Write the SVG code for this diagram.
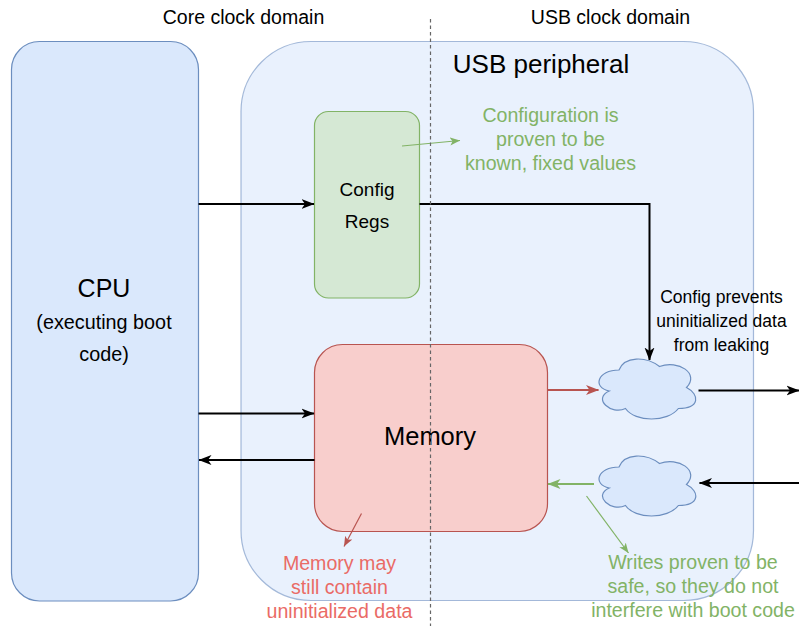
<svg xmlns="http://www.w3.org/2000/svg" width="799" height="626" viewBox="0 0 799 626">
<style>
text{font-family:"Liberation Sans",Arial,sans-serif;text-anchor:middle;fill:#000}
.hdr{font-size:19.5px}
.ann-g{font-size:19.6px;fill:#82b366}
.ann-r{font-size:19.6px;fill:#ea6b66}
.small{font-size:17.5px}
.conn{fill:none;stroke:#000;stroke-width:2}
.conn-r{fill:none;stroke:#b85450;stroke-width:2}
.conn-g{fill:none;stroke:#82b366;stroke-width:2}
.note-g{fill:none;stroke:#82b366;stroke-width:1.2}
.note-r{fill:none;stroke:#b85450;stroke-width:1.2}
.cloud{fill:#dae8fc;stroke:#6c8ebf;stroke-width:1.2}
</style>
<defs>
<marker id="ab" markerUnits="userSpaceOnUse" markerWidth="14" markerHeight="12" refX="12.5" refY="6" orient="auto"><path d="M0,1 L13,6 L0,11 L3.5,6 Z" fill="#000"/></marker>
<marker id="ar" markerUnits="userSpaceOnUse" markerWidth="14" markerHeight="12" refX="12.5" refY="6" orient="auto"><path d="M0,1 L13,6 L0,11 L3.5,6 Z" fill="#b85450"/></marker>
<marker id="ag" markerUnits="userSpaceOnUse" markerWidth="14" markerHeight="12" refX="12.5" refY="6" orient="auto"><path d="M0,1 L13,6 L0,11 L3.5,6 Z" fill="#82b366"/></marker>
<marker id="agS" markerUnits="userSpaceOnUse" markerWidth="11" markerHeight="9" refX="10" refY="4.5" orient="auto"><path d="M0,0.5 L10,4.5 L0,8.5 L2.5,4.5 Z" fill="#82b366"/></marker>
<marker id="arS" markerUnits="userSpaceOnUse" markerWidth="11" markerHeight="9" refX="10" refY="4.5" orient="auto"><path d="M0,0.5 L10,4.5 L0,8.5 L2.5,4.5 Z" fill="#b85450"/></marker>
<path id="cloudShape" d="M27,17.5 C5.4,17.5 0,35 17.28,38.5 C0,46.2 19.44,63 33.48,56 C43.2,70 75.6,70 86.4,56 C108,56 108,42 94.5,35 C108,21 86.4,7 67.5,14 C54,3.5 32.4,3.5 27,17.5 Z"/>
</defs>

<g id="header-core"><text class="hdr" x="243.5" y="24">Core clock domain</text></g>
<g id="header-usb"><text class="hdr" x="610.5" y="24">USB clock domain</text></g>

<g id="cpu">
<rect x="11.5" y="41.5" width="187" height="559.5" rx="28" fill="#dae8fc" stroke="#6c8ebf" stroke-width="1.2"/>
<text x="104" y="297" style="font-size:25px">CPU</text>
<text x="104" y="329" style="font-size:19.8px">(executing boot</text>
<text x="104" y="361" style="font-size:19.8px">code)</text>
</g>

<g id="usb-peripheral">
<rect x="241" y="41.5" width="512.5" height="559" rx="70" fill="#dae8fc" fill-opacity="0.6" stroke="#6c8ebf" stroke-opacity="0.6" stroke-width="1.2"/>
<text x="541" y="73" style="font-size:26px">USB peripheral</text>
</g>

<g id="config-regs">
<rect x="314.5" y="111.5" width="105" height="186.5" rx="14" fill="#d5e8d4" stroke="#82b366" stroke-width="1.2"/>
<text x="367" y="196" style="font-size:19px">Config</text>
<text x="367" y="228" style="font-size:19px">Regs</text>
</g>

<g id="memory">
<rect x="314.5" y="344.5" width="233" height="187" rx="28" fill="#f8cecc" stroke="#b85450" stroke-width="1.2"/>
<text x="430" y="445" style="font-size:25.5px">Memory</text>
</g>

<g id="cloud-out"><use href="#cloudShape" class="cloud" transform="translate(592,352.5)"/></g>
<g id="cloud-in"><use href="#cloudShape" class="cloud" transform="translate(592,449.5)"/></g>

<g id="connectors">
<path class="conn" d="M198.5,204 L314,204" marker-end="url(#ab)"/>
<path class="conn" d="M419.5,204 L649.5,204 L649.5,360" marker-end="url(#ab)"/>
<path class="conn" d="M198.5,413.5 L314,413.5" marker-end="url(#ab)"/>
<path class="conn" d="M314.5,460 L199,460" marker-end="url(#ab)"/>
<path class="conn-r" d="M547.5,390 L598.5,390" marker-end="url(#ar)"/>
<path class="conn" d="M698.5,390.5 L799,390.5" marker-end="url(#ab)"/>
<path class="conn" d="M799,483 L699.5,483" marker-end="url(#ab)"/>
<path class="conn-g" d="M594,484 L548,484" marker-end="url(#ag)"/>
<path class="note-g" d="M402,146 L460,140.5" marker-end="url(#agS)"/>
<path class="note-r" d="M361.5,513.5 L344,546.5" marker-end="url(#arS)"/>
<path class="note-g" d="M586.5,496 L628.5,553" marker-end="url(#agS)"/>
</g>

<g id="domain-divider">
<line x1="430.5" y1="19" x2="430.5" y2="626" stroke="#666" stroke-width="1.2" stroke-dasharray="3.5 3"/>
</g>

<g id="note-config">
<text class="ann-g" x="550.5" y="122">Configuration is</text>
<text class="ann-g" x="550.5" y="146">proven to be</text>
<text class="ann-g" x="550.5" y="170">known, fixed values</text>
</g>
<g id="note-prevents">
<text class="small" x="721.5" y="303">Config prevents</text>
<text class="small" x="721.5" y="327">uninitialized data</text>
<text class="small" x="721.5" y="351">from leaking</text>
</g>
<g id="note-memory">
<text class="ann-r" x="339.5" y="570">Memory may</text>
<text class="ann-r" x="339.5" y="594">still contain</text>
<text class="ann-r" x="339.5" y="618">uninitialized data</text>
</g>
<g id="note-writes">
<text class="ann-g" x="693" y="568.5">Writes proven to be</text>
<text class="ann-g" x="693" y="592.5">safe, so they do not</text>
<text class="ann-g" x="693" y="616.5">interfere with boot code</text>
</g>
</svg>
